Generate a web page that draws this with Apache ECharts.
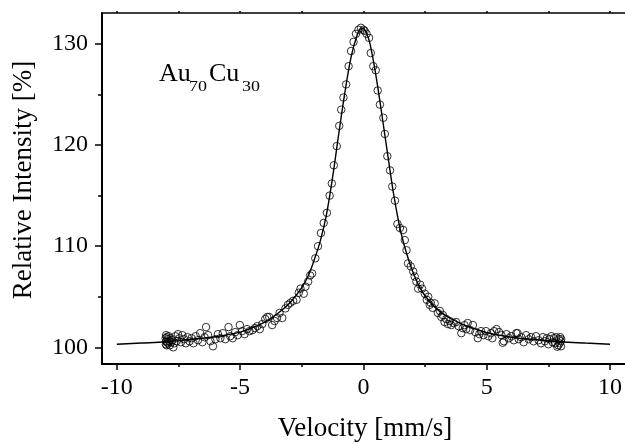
<!DOCTYPE html>
<html>
<head>
<meta charset="utf-8">
<script src="https://cdn.jsdelivr.net/npm/echarts@6/dist/echarts.min.js"></script>
<style>html,body{margin:0;padding:0;background:#fff;}#chart{width:625px;height:444px;}</style>
</head>
<body>
<div id="chart"></div>
<script>
// Measured data points (velocity mm/s, relative intensity %)
const pointVelocity = [
-8.02,-8.01,-8.0,-7.99,-7.98,-7.97,-7.96,-7.94,-7.92,-7.9,-7.88,-7.85,-7.82,-7.79,-7.75,-7.71,-7.67,-7.62,-7.57,-7.52,
-7.46,-7.4,-7.34,-7.27,-7.2,-7.13,-7.05,-6.97,-6.89,-6.8,-6.71,-6.62,-6.53,-6.44,-6.38,-6.3,-6.2,-6.1,-6.0,-5.9,
-5.8,-5.7,-5.6,-5.47,-5.4,-5.3,-5.2,-5.1,-5.01,-4.92,-4.82,-4.72,-4.62,-4.5,-4.4,-4.3,-4.2,-4.1,-3.98,-3.9,
-3.82,-3.7,-3.6,-3.5,-3.4,-3.29,-3.16,-3.06,-2.96,-2.85,-2.71,-2.62,-2.55,-2.42,-2.35,-2.24,-2.16,-2.08,-1.95,-1.84,
-1.72,-1.61,-1.48,-1.37,-1.28,-1.2,-1.08,-0.98,-0.9,-0.81,-0.7,-0.6,-0.5,-0.4,-0.3,-0.2,-0.1,0.0,
0.05,0.13,0.23,0.3,0.4,0.5,0.58,0.67,0.81,0.87,0.97,1.08,1.17,1.28,1.38,1.48,
1.61,1.68,1.75,1.81,1.92,2.02,2.08,2.15,2.22,2.3,2.38,2.49,2.57,2.63,2.69,2.73,2.81,2.89,3.02,3.1,
3.16,3.22,3.29,3.36,3.43,3.5,3.56,3.66,3.76,3.86,3.97,4.03,4.1,4.17,4.23,4.33,4.44,4.54,4.64,4.7,
4.77,4.87,4.97,5.07,5.17,5.23,5.3,5.4,5.5,5.6,5.65,5.7,5.8,5.9,6.0,6.1,6.2,6.25,6.3,6.4,
6.5,6.6,6.7,6.8,6.9,7.0,7.1,7.2,7.28,7.36,7.44,7.5,7.56,7.62,7.68,7.73,7.78,7.82,7.86,7.9,
7.93,7.96,7.98,8.0,8.01,8.02
];
const pointIntensity = [
100.9,100.3,101.2,100.6,100.2,101.0,100.5,100.8,100.4,101.1,100.6,100.2,100.9,100.5,100.7,100.0,100.4,101.1,100.6,101.3,
100.9,100.5,101.2,100.8,100.4,101.0,100.6,100.9,100.4,101.1,100.7,101.4,100.5,101.0,102.0,101.2,100.6,100.1,100.8,101.3,
100.9,101.4,100.8,102.0,101.1,100.9,101.5,101.2,102.2,101.6,101.3,101.8,101.6,101.7,101.9,102.1,101.8,102.3,102.8,103.0,
103.0,102.2,102.6,102.9,103.4,102.9,103.85,104.2,104.4,104.6,104.7,105.4,105.8,105.3,106.0,106.5,107.1,107.3,108.8,110.0,
111.3,112.3,113.3,115.0,116.2,118.0,119.9,121.9,123.5,124.7,126.0,127.8,129.3,130.2,131.0,131.4,131.6,131.4,
131.3,131.0,130.6,129.1,127.8,127.4,125.4,124.0,122.7,121.1,118.9,117.5,115.9,114.5,112.2,111.8,
111.6,110.6,109.6,108.3,108.0,107.5,107.0,106.5,105.8,106.2,105.8,105.3,104.7,105.0,104.2,104.4,103.9,104.35,103.4,103.6,
103.0,103.2,102.5,102.8,102.3,102.6,102.2,102.4,102.5,102.1,101.4,101.9,102.2,101.8,102.4,101.7,102.2,101.5,100.9,101.3,
101.6,101.2,101.6,101.1,101.4,100.9,101.6,101.8,101.5,101.2,100.45,100.6,101.3,100.9,101.1,100.7,101.4,101.4,100.8,101.0,
100.5,101.2,100.8,101.0,100.6,101.1,100.7,100.4,101.0,100.6,100.9,100.3,100.8,101.1,100.5,100.9,100.4,101.0,100.06,100.2,
100.8,100.4,101.0,100.6,100.1,100.8
];
// Fitted curve
const fitVelocity = [-10,-9,-8,-7,-6,-5,-4.5,-4,-3.5,-3,-2.5,-2.25,-2,-1.75,-1.5,-1.25,-1,-0.75,-0.5,-0.25,-0.1,0,0.1,0.25,0.5,0.75,1,1.25,1.5,1.75,2,2.25,2.5,3,3.5,4,4.5,5,6,7,8,9,10];
const fitIntensity = [100.3,100.42,100.55,100.8,101.05,101.5,101.95,102.5,103.3,104.35,105.9,107.0,108.6,110.5,113.1,116.8,121.1,125.2,128.7,130.9,131.5,131.5,131.2,130.2,127.0,123.0,118.8,114.8,111.6,109.3,107.5,106.1,105.1,103.75,102.9,102.3,101.85,101.45,101.0,100.75,100.55,100.42,100.3];
// Ticks
const xMajorTicks = [-10,-5,0,5,10];
const xMinorTicks = [-7.5,-2.5,2.5,7.5];
const xTopTicks = [-10,-7.5,-5,-2.5,0,2.5,5,7.5,10];
const yMajorTicks = [100,110,120,130];
const yMinorTicks = [105,115,125];

const FONT = '"Liberation Serif", "Times New Roman", serif';
const chart = echarts.init(document.getElementById('chart'), null, {renderer: 'canvas'});
const xMin = -10.6, xMax = 10.6, yMin = 98.35, yMax = 133.06;

const scatterData = pointVelocity.map((v, i) => [v, pointIntensity[i]]);
const fitData = fitVelocity.map((v, i) => [v, fitIntensity[i]]);

chart.setOption({
  backgroundColor: '#fff',
  animation: false,
  grid: {left: 102, top: 13, width: 526, height: 351, containLabel: false},
  xAxis: [
    {type: 'value', min: xMin, max: xMax, position: 'bottom',
     axisLine: {show: true, onZero: false, lineStyle: {color: '#000', width: 2}},
     axisTick: {show: true, customValues: xMajorTicks, length: 6, lineStyle: {color: '#000', width: 1.5}},
     axisLabel: {customValues: xMajorTicks, fontSize: 24, fontFamily: FONT, color: '#000', margin: 12},
     splitLine: {show: false}},
    {type: 'value', min: xMin, max: xMax, position: 'bottom',
     axisLine: {show: false, onZero: false},
     axisTick: {show: true, customValues: xMinorTicks, length: 3, lineStyle: {color: '#000', width: 1.5}},
     axisLabel: {show: false}, splitLine: {show: false}},
    {type: 'value', min: xMin, max: xMax, position: 'top',
     axisLine: {show: true, onZero: false, lineStyle: {color: '#000', width: 1.5}},
     axisTick: {show: true, customValues: xTopTicks, length: 2, lineStyle: {color: '#000', width: 1.5}},
     axisLabel: {show: false}, splitLine: {show: false}}
  ],
  yAxis: [
    {type: 'value', min: yMin, max: yMax, position: 'left',
     axisLine: {show: true, onZero: false, lineStyle: {color: '#000', width: 2}},
     axisTick: {show: true, customValues: yMajorTicks, length: 7, lineStyle: {color: '#000', width: 1.5}},
     axisLabel: {customValues: yMajorTicks, fontSize: 24, fontFamily: FONT, color: '#000', margin: 14},
     splitLine: {show: false}},
    {type: 'value', min: yMin, max: yMax, position: 'left',
     axisLine: {show: false, onZero: false},
     axisTick: {show: true, customValues: yMinorTicks, length: 4, lineStyle: {color: '#000', width: 1.5}},
     axisLabel: {show: false}, splitLine: {show: false}}
  ],
  series: [
    {type: 'line', data: fitData, xAxisIndex: 0, yAxisIndex: 0, showSymbol: false, smooth: 0.35,
     lineStyle: {color: '#000', width: 1.4}, z: 2, silent: true},
    {type: 'scatter', data: scatterData, xAxisIndex: 0, yAxisIndex: 0, symbol: 'circle', symbolSize: 7.5,
     itemStyle: {color: 'rgba(0,0,0,0)', borderColor: '#000', borderWidth: 1}, z: 3, silent: true}
  ],
  graphic: [
    {type: 'text', x: 24, y: 180, rotation: Math.PI / 2,
     style: {text: 'Relative Intensity [%]', font: '27px ' + FONT, fill: '#000', align: 'center', verticalAlign: 'middle'}},
    {type: 'text', x: 365, y: 429,
     style: {text: 'Velocity [mm/s]', font: '27px ' + FONT, fill: '#000', align: 'center', verticalAlign: 'middle'}},
    {type: 'text', x: 159, y: 74, style: {text: 'Au', font: '26px ' + FONT, fill: '#000', align: 'left', verticalAlign: 'middle'}},
    {type: 'text', x: 189, y: 87, scaleX: 1.2, style: {text: '70', font: '15px ' + FONT, fill: '#000', align: 'left', verticalAlign: 'middle'}},
    {type: 'text', x: 209, y: 74, style: {text: 'Cu', font: '26px ' + FONT, fill: '#000', align: 'left', verticalAlign: 'middle'}},
    {type: 'text', x: 242, y: 87, scaleX: 1.2, style: {text: '30', font: '15px ' + FONT, fill: '#000', align: 'left', verticalAlign: 'middle'}}
  ]
});
</script>
</body>
</html>
